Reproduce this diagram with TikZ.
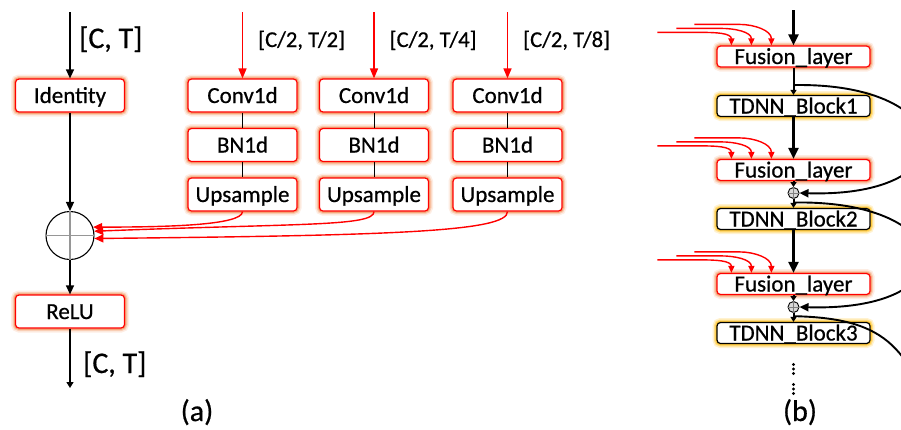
\documentclass[tikz,border=0pt]{standalone}
\usepackage{fontspec}
\setmainfont{Carlito}[FakeBold=0.6]
\usetikzlibrary{arrows.meta,calc}
\definecolor{glowred}{RGB}{240,125,60}
\definecolor{glowgold}{RGB}{255,190,20}
\definecolor{crossgray}{RGB}{150,150,150}
\begin{document}
\begin{tikzpicture}[x=1pt,y=-1pt,
  glowA/.style={preaction={draw=glowred,draw opacity=0.14,line width=9pt},
                preaction={draw=glowred,draw opacity=0.28,line width=6pt},
                preaction={draw=glowred,draw opacity=0.5,line width=3.5pt}},
  glowB/.style={preaction={draw=glowgold,draw opacity=0.2,line width=9pt},
                preaction={draw=glowgold,draw opacity=0.38,line width=6pt},
                preaction={draw=glowgold,draw opacity=0.65,line width=3.5pt}},
  boxbase/.style={line width=1.2pt, fill=white, rounded corners=3.5pt, inner sep=0pt,
                  text height=15pt, text depth=0pt, font=\fontsize{23}{23}\selectfont},
  opbox/.style={boxbase, draw=red, glowA, minimum width=109pt, minimum height=33pt},
  fusion/.style={boxbase, draw=red, glowA, minimum width=153pt, minimum height=21pt},
  tdnn/.style={boxbase, draw=black, glowB, minimum width=153pt, minimum height=21pt},
  biglbl/.style={font=\fontsize{30}{30}\selectfont, inner sep=0pt},
  dimlbl/.style={font=\fontsize{22.6}{22.6}\selectfont, inner sep=0pt, anchor=base west},
  blkarr/.style={draw=black, line width=1.3pt, -{Triangle[length=9pt,width=8pt]}},
  redarr/.style={draw=red, line width=1.5pt, -{Triangle[length=10pt,width=8pt]}},
  link/.style={draw=black, line width=0.9pt},
  merge/.style={draw=red, line width=1.4pt, -{Triangle[length=9pt,width=8pt]}},
  bigarr/.style={draw=black, line width=2.2pt, -{Triangle[length=11pt,width=10pt]}},
  smallarr/.style={draw=black, line width=2pt, -{Triangle[length=5pt,width=6pt]}},
  skip/.style={draw=black, line width=1.9pt, -{Triangle[length=9pt,width=8pt]}},
  fusein/.style={draw=red, line width=1.4pt, -{Triangle[length=7pt,width=6pt]}},
  plus/.style={draw=crossgray, line width=1.6pt}
]
\useasboundingbox (0,0) rectangle (901,429);
\clip (0,0) rectangle (901,429);

% ---------------- (a) multi-scale fusion layer ----------------
\coordinate (ain) at (70,12);
\node[opbox] (id) at (70,95.5) {Identity};
\node[circle, draw=black, line width=1.1pt, fill=white, minimum size=48pt, inner sep=0pt] (sum) at (70,235.5) {};
\draw[plus] (sum.north) -- (sum.south);
\draw[plus] (sum.west) -- (sum.east);
\node[opbox] (relu) at (70,311.5) {ReLU};
\coordinate (aout) at (70,388);

\draw[blkarr] (ain) -- (id.north);
\draw[blkarr] (id.south) -- (sum.north);
\draw[blkarr] (sum.south) -- (relu.north);
\draw[draw=black, line width=1.3pt, -{Triangle[length=6pt,width=7pt]}] (relu.south) -- (aout);

\node[biglbl, anchor=base west] (lin) at (79,48) {[C, T]};
\node[biglbl, anchor=base west] (lout) at (83,373) {[C, T]};
\node[biglbl, anchor=base] (capa) at (197,421) {(a)};

\foreach \i/\x/\lab in {1/242.5/{[C/2, T/2]}, 2/374/{[C/2, T/4]}, 3/507.5/{[C/2, T/8]}} {
  \coordinate (top\i) at (\x,12);
  \node[opbox] (conv\i) at (\x,95.5) {Conv1d};
  \node[opbox] (bn\i) at (\x,145) {BN1d};
  \node[opbox] (up\i) at (\x,194.5) {Upsample};
  \draw[redarr] (top\i) -- (conv\i.north);
  \draw[link] (conv\i.south) -- (bn\i.north);
  \draw[link] (bn\i.south) -- (up\i.north);
  \node[dimlbl] (dim\i) at ($(\x,47)+(15.5,0)$) {\lab};
}

\draw[merge] (up1.south) .. controls +(0,14) and +(70,0) .. (sum.20);
\draw[merge] (up2.south) .. controls +(0,15) and +(206,-8) .. (sum.10);
\draw[merge] (up3.south) .. controls +(0,20) and +(300,-3) .. (sum.-7);

% ---------------- (b) stacked TDNN blocks ----------------
\coordinate (bin) at (793.5,10);
\node[fusion] (fl1) at (793.5,56.5) {Fusion\_layer};
\node[tdnn] (td1) at (793.5,106) {TDNN\_Block1};
\node[fusion] (fl2) at (793.5,170) {Fusion\_layer};
\node[circle, draw=black, line width=0.9pt, fill=gray!30, minimum size=11pt, inner sep=0pt] (c2) at (793.5,193) {};
\node[tdnn] (td2) at (793.5,219) {TDNN\_Block2};
\node[fusion] (fl3) at (793.5,284) {Fusion\_layer};
\node[circle, draw=black, line width=0.9pt, fill=gray!30, minimum size=11pt, inner sep=0pt] (c3) at (793.5,307) {};
\node[tdnn] (td3) at (793.5,333) {TDNN\_Block3};

\foreach \c in {c2,c3} {
  \draw[draw=gray, line width=0.7pt] (\c.north) -- (\c.south);
  \draw[draw=gray, line width=0.7pt] (\c.west) -- (\c.east);
}

\draw[bigarr] (bin) -- (fl1.north);
\draw[smallarr] (fl1.south) -- (td1.north);
\draw[bigarr] (td1.south) -- (fl2.north);
\draw[smallarr] (fl2.south) -- (c2.north);
\draw[smallarr] (c2.south) -- (td2.north);
\draw[bigarr] (td2.south) -- (fl3.north);
\draw[smallarr] (fl3.south) -- (c3.north);
\draw[smallarr] (c3.south) -- (td3.north);

% residual skips
\coordinate (s1) at ($(fl1.south)!0.64!(td1.north)$);
\coordinate (s2) at ($(c2.south)!0.4!(td2.north)$);
\coordinate (s3) at ($(c3.south)!0.36!(td3.north)$);
\coordinate (s4) at (940,440);
\draw[skip] (s1) .. controls +(166,-3) and +(172,5) .. (c2.east);
\draw[skip] (s2) .. controls +(166,-3) and +(172,5) .. (c3.east);
\draw[draw=black, line width=1.9pt] (s3) .. controls +(97,2) and +(-30,-90) .. (s4);

% multi-scale inputs to each fusion layer
\foreach \b in {1,2,3} {
  \foreach \k/\sx/\sy/\ex in {1/-59/13/15, 2/-40/17/35, 3/-22/21/55} {
    \coordinate (in\b\k) at ([xshift=\sx pt, yshift=\sy pt]fl\b.north west);
    \coordinate (tg\b\k) at ([xshift=\ex pt]fl\b.north west);
    \draw[fusein] (in\b\k) -- ++(45,0) to[out=0,in=90] (tg\b\k);
  }
}

% continuation dots
\foreach \yy in {364.5,369,373.5,384.5,389,393.5} \fill (793.5,\yy) circle (1.6pt);
\node[biglbl, anchor=base] (capb) at (800,421) {(b)};
\end{tikzpicture}
\end{document}
